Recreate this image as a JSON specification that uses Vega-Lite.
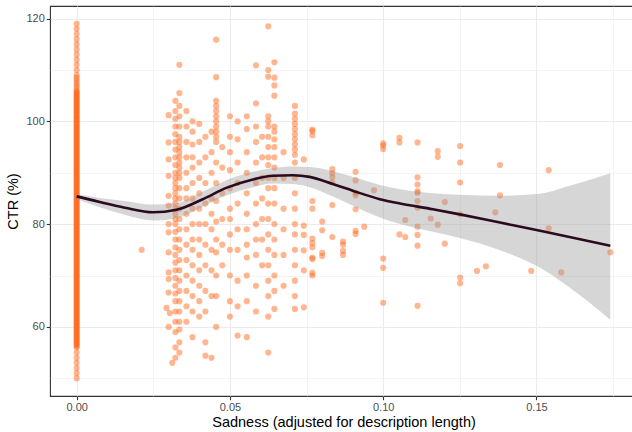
{
"$schema": "https://vega.github.io/schema/vega-lite/v6.json",
"width": 587, "height": 390,
"autosize": "none",
"padding": {"left": 50, "top": 6, "right": 0, "bottom": 36},
"background": "white",
"config": {"view": {"stroke": "#333333", "strokeWidth": 1.1}, "font": "Liberation Sans"},
"datasets": {
"points": [
{"sadness":0,"ctr":50},{"sadness":0,"ctr":51},{"sadness":0,"ctr":52},{"sadness":0,"ctr":53},{"sadness":0,"ctr":54},{"sadness":0,"ctr":55},
{"sadness":0,"ctr":56},{"sadness":0,"ctr":56.25},{"sadness":0,"ctr":56.5},{"sadness":0,"ctr":56.75},{"sadness":0,"ctr":57},{"sadness":0,"ctr":57.25},{"sadness":0,"ctr":57.5},{"sadness":0,"ctr":57.75},{"sadness":0,"ctr":58},{"sadness":0,"ctr":58.25},{"sadness":0,"ctr":58.5},{"sadness":0,"ctr":58.75},{"sadness":0,"ctr":59},{"sadness":0,"ctr":59.25},{"sadness":0,"ctr":59.5},{"sadness":0,"ctr":59.75},
{"sadness":0,"ctr":60},{"sadness":0,"ctr":60.25},{"sadness":0,"ctr":60.5},{"sadness":0,"ctr":60.75},{"sadness":0,"ctr":61},{"sadness":0,"ctr":61.25},{"sadness":0,"ctr":61.5},{"sadness":0,"ctr":61.75},{"sadness":0,"ctr":62},{"sadness":0,"ctr":62.25},{"sadness":0,"ctr":62.5},{"sadness":0,"ctr":62.75},{"sadness":0,"ctr":63},{"sadness":0,"ctr":63.25},{"sadness":0,"ctr":63.5},{"sadness":0,"ctr":63.75},{"sadness":0,"ctr":64},{"sadness":0,"ctr":64.25},{"sadness":0,"ctr":64.5},{"sadness":0,"ctr":64.75},
{"sadness":0,"ctr":65},{"sadness":0,"ctr":65.25},{"sadness":0,"ctr":65.5},{"sadness":0,"ctr":65.75},{"sadness":0,"ctr":66},{"sadness":0,"ctr":66.25},{"sadness":0,"ctr":66.5},{"sadness":0,"ctr":66.75},{"sadness":0,"ctr":67},{"sadness":0,"ctr":67.25},{"sadness":0,"ctr":67.5},{"sadness":0,"ctr":67.75},{"sadness":0,"ctr":68},{"sadness":0,"ctr":68.25},{"sadness":0,"ctr":68.5},{"sadness":0,"ctr":68.75},{"sadness":0,"ctr":69},{"sadness":0,"ctr":69.25},{"sadness":0,"ctr":69.5},{"sadness":0,"ctr":69.75},
{"sadness":0,"ctr":70},{"sadness":0,"ctr":70.25},{"sadness":0,"ctr":70.5},{"sadness":0,"ctr":70.75},{"sadness":0,"ctr":71},{"sadness":0,"ctr":71.25},{"sadness":0,"ctr":71.5},{"sadness":0,"ctr":71.75},{"sadness":0,"ctr":72},{"sadness":0,"ctr":72.25},{"sadness":0,"ctr":72.5},{"sadness":0,"ctr":72.75},{"sadness":0,"ctr":73},{"sadness":0,"ctr":73.25},{"sadness":0,"ctr":73.5},{"sadness":0,"ctr":73.75},{"sadness":0,"ctr":74},{"sadness":0,"ctr":74.25},{"sadness":0,"ctr":74.5},{"sadness":0,"ctr":74.75},
{"sadness":0,"ctr":75},{"sadness":0,"ctr":75.25},{"sadness":0,"ctr":75.5},{"sadness":0,"ctr":75.75},{"sadness":0,"ctr":76},{"sadness":0,"ctr":76.25},{"sadness":0,"ctr":76.5},{"sadness":0,"ctr":76.75},{"sadness":0,"ctr":77},{"sadness":0,"ctr":77.25},{"sadness":0,"ctr":77.5},{"sadness":0,"ctr":77.75},{"sadness":0,"ctr":78},{"sadness":0,"ctr":78.25},{"sadness":0,"ctr":78.5},{"sadness":0,"ctr":78.75},{"sadness":0,"ctr":79},{"sadness":0,"ctr":79.25},{"sadness":0,"ctr":79.5},{"sadness":0,"ctr":79.75},
{"sadness":0,"ctr":80},{"sadness":0,"ctr":80.25},{"sadness":0,"ctr":80.5},{"sadness":0,"ctr":80.75},{"sadness":0,"ctr":81},{"sadness":0,"ctr":81.25},{"sadness":0,"ctr":81.5},{"sadness":0,"ctr":81.75},{"sadness":0,"ctr":82},{"sadness":0,"ctr":82.25},{"sadness":0,"ctr":82.5},{"sadness":0,"ctr":82.75},{"sadness":0,"ctr":83},{"sadness":0,"ctr":83.25},{"sadness":0,"ctr":83.5},{"sadness":0,"ctr":83.75},{"sadness":0,"ctr":84},{"sadness":0,"ctr":84.25},{"sadness":0,"ctr":84.5},{"sadness":0,"ctr":84.75},
{"sadness":0,"ctr":85},{"sadness":0,"ctr":85.25},{"sadness":0,"ctr":85.5},{"sadness":0,"ctr":85.75},{"sadness":0,"ctr":86},{"sadness":0,"ctr":86.25},{"sadness":0,"ctr":86.5},{"sadness":0,"ctr":86.75},{"sadness":0,"ctr":87},{"sadness":0,"ctr":87.25},{"sadness":0,"ctr":87.5},{"sadness":0,"ctr":87.75},{"sadness":0,"ctr":88},{"sadness":0,"ctr":88.25},{"sadness":0,"ctr":88.5},{"sadness":0,"ctr":88.75},{"sadness":0,"ctr":89},{"sadness":0,"ctr":89.25},{"sadness":0,"ctr":89.5},{"sadness":0,"ctr":89.75},
{"sadness":0,"ctr":90},{"sadness":0,"ctr":90.25},{"sadness":0,"ctr":90.5},{"sadness":0,"ctr":90.75},{"sadness":0,"ctr":91},{"sadness":0,"ctr":91.25},{"sadness":0,"ctr":91.5},{"sadness":0,"ctr":91.75},{"sadness":0,"ctr":92},{"sadness":0,"ctr":92.25},{"sadness":0,"ctr":92.5},{"sadness":0,"ctr":92.75},{"sadness":0,"ctr":93},{"sadness":0,"ctr":93.25},{"sadness":0,"ctr":93.5},{"sadness":0,"ctr":93.75},{"sadness":0,"ctr":94},{"sadness":0,"ctr":94.25},{"sadness":0,"ctr":94.5},{"sadness":0,"ctr":94.75},
{"sadness":0,"ctr":95},{"sadness":0,"ctr":95.25},{"sadness":0,"ctr":95.5},{"sadness":0,"ctr":95.75},{"sadness":0,"ctr":96},{"sadness":0,"ctr":96.25},{"sadness":0,"ctr":96.5},{"sadness":0,"ctr":96.75},{"sadness":0,"ctr":97},{"sadness":0,"ctr":97.25},{"sadness":0,"ctr":97.5},{"sadness":0,"ctr":97.75},{"sadness":0,"ctr":98},{"sadness":0,"ctr":98.25},{"sadness":0,"ctr":98.5},{"sadness":0,"ctr":98.75},{"sadness":0,"ctr":99},{"sadness":0,"ctr":99.25},{"sadness":0,"ctr":99.5},{"sadness":0,"ctr":99.75},
{"sadness":0,"ctr":100},{"sadness":0,"ctr":100.25},{"sadness":0,"ctr":100.5},{"sadness":0,"ctr":100.75},{"sadness":0,"ctr":101},{"sadness":0,"ctr":101.25},{"sadness":0,"ctr":101.5},{"sadness":0,"ctr":101.75},{"sadness":0,"ctr":102},{"sadness":0,"ctr":102.25},{"sadness":0,"ctr":102.5},{"sadness":0,"ctr":102.75},{"sadness":0,"ctr":103},{"sadness":0,"ctr":103.25},{"sadness":0,"ctr":103.5},{"sadness":0,"ctr":103.75},{"sadness":0,"ctr":104},{"sadness":0,"ctr":104.25},{"sadness":0,"ctr":104.5},{"sadness":0,"ctr":104.75},
{"sadness":0,"ctr":105},{"sadness":0,"ctr":105.25},{"sadness":0,"ctr":105.5},{"sadness":0,"ctr":105.75},{"sadness":0,"ctr":106},{"sadness":0,"ctr":106.5},{"sadness":0,"ctr":107},{"sadness":0,"ctr":107.5},{"sadness":0,"ctr":108},{"sadness":0,"ctr":108.5},
{"sadness":0,"ctr":109},{"sadness":0,"ctr":110},{"sadness":0,"ctr":111},{"sadness":0,"ctr":112},{"sadness":0,"ctr":113},{"sadness":0,"ctr":114},{"sadness":0,"ctr":115},{"sadness":0,"ctr":116},{"sadness":0,"ctr":117},{"sadness":0,"ctr":118},{"sadness":0,"ctr":119},
{"sadness":0.0212,"ctr":75},
{"sadness":0.0293,"ctr":63.7},{"sadness":0.0304,"ctr":62.7},{"sadness":0.0312,"ctr":53},
{"sadness":0.03,"ctr":101.2},{"sadness":0.03,"ctr":95.9},{"sadness":0.03,"ctr":92.6},{"sadness":0.03,"ctr":89.4},{"sadness":0.03,"ctr":85.5},{"sadness":0.03,"ctr":83.6},{"sadness":0.03,"ctr":80},{"sadness":0.03,"ctr":78.4},{"sadness":0.03,"ctr":74.5},{"sadness":0.03,"ctr":70.6},{"sadness":0.03,"ctr":69.3},{"sadness":0.03,"ctr":66.7},{"sadness":0.03,"ctr":60},
{"sadness":0.0322,"ctr":104},{"sadness":0.0322,"ctr":102},{"sadness":0.0322,"ctr":100.5},{"sadness":0.0322,"ctr":99},{"sadness":0.0322,"ctr":97.5},{"sadness":0.0322,"ctr":96},{"sadness":0.0322,"ctr":94.5},{"sadness":0.0322,"ctr":93},{"sadness":0.0322,"ctr":91.5},{"sadness":0.0322,"ctr":90},{"sadness":0.0322,"ctr":89},{"sadness":0.0322,"ctr":88},{"sadness":0.0322,"ctr":87},{"sadness":0.0322,"ctr":86},{"sadness":0.0322,"ctr":85},{"sadness":0.0322,"ctr":84},{"sadness":0.0322,"ctr":83},{"sadness":0.0322,"ctr":82},{"sadness":0.0322,"ctr":81},{"sadness":0.0322,"ctr":80},{"sadness":0.0322,"ctr":78.5},{"sadness":0.0322,"ctr":77},{"sadness":0.0322,"ctr":75.5},{"sadness":0.0322,"ctr":74},{"sadness":0.0322,"ctr":72.5},{"sadness":0.0322,"ctr":71},{"sadness":0.0322,"ctr":69.5},{"sadness":0.0322,"ctr":68},{"sadness":0.0322,"ctr":66.5},{"sadness":0.0322,"ctr":65},{"sadness":0.0322,"ctr":63},{"sadness":0.0322,"ctr":61},{"sadness":0.0322,"ctr":59},{"sadness":0.0322,"ctr":56},{"sadness":0.0322,"ctr":54},
{"sadness":0.0335,"ctr":111},{"sadness":0.0335,"ctr":105.5},{"sadness":0.0335,"ctr":103},{"sadness":0.0335,"ctr":101},{"sadness":0.0335,"ctr":99},{"sadness":0.0335,"ctr":97},{"sadness":0.0335,"ctr":96},{"sadness":0.0335,"ctr":95},{"sadness":0.0335,"ctr":94},{"sadness":0.0335,"ctr":93},{"sadness":0.0335,"ctr":92},{"sadness":0.0335,"ctr":91},{"sadness":0.0335,"ctr":90},{"sadness":0.0335,"ctr":89},{"sadness":0.0335,"ctr":87},{"sadness":0.0335,"ctr":85},{"sadness":0.0335,"ctr":83},{"sadness":0.0335,"ctr":81},{"sadness":0.0335,"ctr":79},{"sadness":0.0335,"ctr":77},{"sadness":0.0335,"ctr":75},{"sadness":0.0335,"ctr":73},{"sadness":0.0335,"ctr":71},{"sadness":0.0335,"ctr":69},{"sadness":0.0335,"ctr":67},{"sadness":0.0335,"ctr":65},{"sadness":0.0335,"ctr":63},{"sadness":0.0335,"ctr":61},{"sadness":0.0335,"ctr":59.5},{"sadness":0.0335,"ctr":57},{"sadness":0.0335,"ctr":55},
{"sadness":0.0358,"ctr":102},{"sadness":0.0358,"ctr":99},{"sadness":0.0358,"ctr":96},{"sadness":0.0358,"ctr":93},{"sadness":0.0358,"ctr":90},{"sadness":0.0358,"ctr":87},{"sadness":0.0358,"ctr":85},{"sadness":0.0358,"ctr":82},{"sadness":0.0358,"ctr":79},{"sadness":0.0358,"ctr":76},{"sadness":0.0358,"ctr":73},{"sadness":0.0358,"ctr":70},{"sadness":0.0358,"ctr":67},{"sadness":0.0358,"ctr":64},{"sadness":0.0358,"ctr":61},
{"sadness":0.0378,"ctr":100},{"sadness":0.0378,"ctr":98},{"sadness":0.0378,"ctr":95.5},{"sadness":0.0378,"ctr":93},{"sadness":0.0378,"ctr":91},{"sadness":0.0378,"ctr":88},{"sadness":0.0378,"ctr":85},{"sadness":0.0378,"ctr":83},{"sadness":0.0378,"ctr":80},{"sadness":0.0378,"ctr":77},{"sadness":0.0378,"ctr":75},{"sadness":0.0378,"ctr":72},{"sadness":0.0378,"ctr":69},{"sadness":0.0378,"ctr":66},{"sadness":0.0378,"ctr":63},{"sadness":0.0378,"ctr":58},
{"sadness":0.04,"ctr":99.5},{"sadness":0.04,"ctr":96},{"sadness":0.04,"ctr":92},{"sadness":0.04,"ctr":89},{"sadness":0.04,"ctr":86},{"sadness":0.04,"ctr":83},{"sadness":0.04,"ctr":80},{"sadness":0.04,"ctr":77},{"sadness":0.04,"ctr":74},{"sadness":0.04,"ctr":71},{"sadness":0.04,"ctr":68},{"sadness":0.04,"ctr":65},{"sadness":0.04,"ctr":62},
{"sadness":0.042,"ctr":97},{"sadness":0.042,"ctr":93},{"sadness":0.042,"ctr":88},{"sadness":0.042,"ctr":84},{"sadness":0.042,"ctr":80},{"sadness":0.042,"ctr":76},{"sadness":0.042,"ctr":72},{"sadness":0.042,"ctr":67},{"sadness":0.042,"ctr":63},{"sadness":0.042,"ctr":57},{"sadness":0.042,"ctr":54.4},
{"sadness":0.044,"ctr":98},{"sadness":0.044,"ctr":94},{"sadness":0.044,"ctr":90},{"sadness":0.044,"ctr":85},{"sadness":0.044,"ctr":82},{"sadness":0.044,"ctr":79},{"sadness":0.044,"ctr":75},{"sadness":0.044,"ctr":71},{"sadness":0.044,"ctr":66},{"sadness":0.044,"ctr":54},
{"sadness":0.0455,"ctr":115.9},{"sadness":0.0455,"ctr":108.6},{"sadness":0.0455,"ctr":104},{"sadness":0.0455,"ctr":103},{"sadness":0.0455,"ctr":102},{"sadness":0.0455,"ctr":101},{"sadness":0.0455,"ctr":100},{"sadness":0.0455,"ctr":99},{"sadness":0.0455,"ctr":98},{"sadness":0.0455,"ctr":97},{"sadness":0.0455,"ctr":96},{"sadness":0.0455,"ctr":92},{"sadness":0.0455,"ctr":88},{"sadness":0.0455,"ctr":84.5},{"sadness":0.0455,"ctr":80.5},{"sadness":0.0455,"ctr":77},{"sadness":0.0455,"ctr":74.5},{"sadness":0.0455,"ctr":70},{"sadness":0.0455,"ctr":66},{"sadness":0.0455,"ctr":60},
{"sadness":0.0475,"ctr":95},{"sadness":0.0475,"ctr":91},{"sadness":0.0475,"ctr":86},{"sadness":0.0475,"ctr":81},{"sadness":0.0475,"ctr":76},{"sadness":0.0475,"ctr":72},
{"sadness":0.05,"ctr":101},{"sadness":0.05,"ctr":97},{"sadness":0.05,"ctr":94},{"sadness":0.05,"ctr":90.5},{"sadness":0.05,"ctr":87},{"sadness":0.05,"ctr":83},{"sadness":0.05,"ctr":81},{"sadness":0.05,"ctr":78},{"sadness":0.05,"ctr":75},{"sadness":0.05,"ctr":70},{"sadness":0.05,"ctr":65},{"sadness":0.05,"ctr":62},
{"sadness":0.0525,"ctr":100},{"sadness":0.0525,"ctr":96.5},{"sadness":0.0525,"ctr":92},{"sadness":0.0525,"ctr":88},{"sadness":0.0525,"ctr":84},{"sadness":0.0525,"ctr":79},{"sadness":0.0525,"ctr":75},{"sadness":0.0525,"ctr":69},{"sadness":0.0525,"ctr":64},{"sadness":0.0525,"ctr":58.3},
{"sadness":0.0555,"ctr":101},{"sadness":0.0555,"ctr":98.5},{"sadness":0.0555,"ctr":94},{"sadness":0.0555,"ctr":90},{"sadness":0.0555,"ctr":86},{"sadness":0.0555,"ctr":82},{"sadness":0.0555,"ctr":79},{"sadness":0.0555,"ctr":76},{"sadness":0.0555,"ctr":73.5},{"sadness":0.0555,"ctr":70},{"sadness":0.0555,"ctr":65},{"sadness":0.0555,"ctr":58},
{"sadness":0.0585,"ctr":110.9},{"sadness":0.0585,"ctr":103.5},{"sadness":0.0585,"ctr":99},{"sadness":0.0585,"ctr":96},{"sadness":0.0585,"ctr":92},{"sadness":0.0585,"ctr":88},{"sadness":0.0585,"ctr":84},{"sadness":0.0585,"ctr":80},{"sadness":0.0585,"ctr":77},{"sadness":0.0585,"ctr":74},{"sadness":0.0585,"ctr":68},{"sadness":0.0585,"ctr":63},
{"sadness":0.0605,"ctr":97},{"sadness":0.0605,"ctr":93},{"sadness":0.0605,"ctr":89},{"sadness":0.0605,"ctr":85},{"sadness":0.0605,"ctr":81},{"sadness":0.0605,"ctr":77},{"sadness":0.0605,"ctr":72},
{"sadness":0.0625,"ctr":118.5},{"sadness":0.0625,"ctr":110},{"sadness":0.0625,"ctr":108.7},{"sadness":0.0625,"ctr":101},{"sadness":0.0625,"ctr":100},{"sadness":0.0625,"ctr":99},{"sadness":0.0625,"ctr":97},{"sadness":0.0625,"ctr":95},{"sadness":0.0625,"ctr":93},{"sadness":0.0625,"ctr":91.5},{"sadness":0.0625,"ctr":89},{"sadness":0.0625,"ctr":87},{"sadness":0.0625,"ctr":84},{"sadness":0.0625,"ctr":81},{"sadness":0.0625,"ctr":78},{"sadness":0.0625,"ctr":75},{"sadness":0.0625,"ctr":72},{"sadness":0.0625,"ctr":69},{"sadness":0.0625,"ctr":66},{"sadness":0.0625,"ctr":62},{"sadness":0.0625,"ctr":55},
{"sadness":0.0645,"ctr":111.5},{"sadness":0.0645,"ctr":108.5},{"sadness":0.0645,"ctr":107},{"sadness":0.0645,"ctr":105},{"sadness":0.0645,"ctr":99},{"sadness":0.0645,"ctr":98},{"sadness":0.0645,"ctr":96.5},{"sadness":0.0645,"ctr":95},{"sadness":0.0645,"ctr":93},{"sadness":0.0645,"ctr":91},{"sadness":0.0645,"ctr":89},{"sadness":0.0645,"ctr":87},{"sadness":0.0645,"ctr":84},{"sadness":0.0645,"ctr":80},{"sadness":0.0645,"ctr":77},{"sadness":0.0645,"ctr":74},{"sadness":0.0645,"ctr":70},{"sadness":0.0645,"ctr":67},{"sadness":0.0645,"ctr":63.5},
{"sadness":0.0675,"ctr":94},{"sadness":0.0675,"ctr":89},{"sadness":0.0675,"ctr":83},{"sadness":0.0675,"ctr":79},{"sadness":0.0675,"ctr":74},{"sadness":0.0675,"ctr":68},
{"sadness":0.0712,"ctr":103},{"sadness":0.0712,"ctr":101.5},{"sadness":0.0712,"ctr":100.5},{"sadness":0.0712,"ctr":99.5},{"sadness":0.0712,"ctr":98.5},{"sadness":0.0712,"ctr":97.5},{"sadness":0.0712,"ctr":96.5},{"sadness":0.0712,"ctr":95.5},{"sadness":0.0712,"ctr":94.5},{"sadness":0.0712,"ctr":93.5},{"sadness":0.0712,"ctr":92},{"sadness":0.0712,"ctr":89},{"sadness":0.0712,"ctr":86},{"sadness":0.0712,"ctr":83},{"sadness":0.0712,"ctr":80},{"sadness":0.0712,"ctr":78},{"sadness":0.0712,"ctr":75},{"sadness":0.0712,"ctr":72},{"sadness":0.0712,"ctr":69},{"sadness":0.0712,"ctr":66},{"sadness":0.0712,"ctr":63.5},
{"sadness":0.0741,"ctr":92.6},{"sadness":0.0741,"ctr":79.7},{"sadness":0.0741,"ctr":77.9},{"sadness":0.0741,"ctr":74.9},{"sadness":0.0741,"ctr":71},{"sadness":0.0741,"ctr":63.8},
{"sadness":0.0769,"ctr":98.4},{"sadness":0.0769,"ctr":98.1},{"sadness":0.0769,"ctr":97.3},{"sadness":0.0769,"ctr":84.5},{"sadness":0.0769,"ctr":83},{"sadness":0.0769,"ctr":77.2},{"sadness":0.0769,"ctr":76.3},{"sadness":0.0769,"ctr":75.5},{"sadness":0.0769,"ctr":73.5},{"sadness":0.0769,"ctr":73.2},{"sadness":0.0769,"ctr":70.5},{"sadness":0.0769,"ctr":70},
{"sadness":0.0801,"ctr":80.5},{"sadness":0.0801,"ctr":78.8},{"sadness":0.0801,"ctr":74.4},{"sadness":0.0801,"ctr":73.8},
{"sadness":0.0834,"ctr":90.7},{"sadness":0.0834,"ctr":89.9},{"sadness":0.0834,"ctr":89.1},{"sadness":0.0834,"ctr":88.1},{"sadness":0.0834,"ctr":83.7},{"sadness":0.0834,"ctr":77.5},
{"sadness":0.0869,"ctr":76.6},{"sadness":0.0869,"ctr":76},{"sadness":0.0869,"ctr":74.8},{"sadness":0.0869,"ctr":74},
{"sadness":0.091,"ctr":90.2},{"sadness":0.091,"ctr":88.5},{"sadness":0.091,"ctr":86.1},{"sadness":0.091,"ctr":85.6},{"sadness":0.091,"ctr":82.9},{"sadness":0.091,"ctr":78.7},{"sadness":0.091,"ctr":78.1},
{"sadness":0.0938,"ctr":79.5},{"sadness":0.097,"ctr":86.6},
{"sadness":0.1,"ctr":95.7},{"sadness":0.1,"ctr":95.3},{"sadness":0.1,"ctr":94.6},{"sadness":0.1,"ctr":73.3},{"sadness":0.1,"ctr":71.5},{"sadness":0.1,"ctr":64.7},
{"sadness":0.1053,"ctr":96.8},{"sadness":0.1053,"ctr":95.9},{"sadness":0.1053,"ctr":78},
{"sadness":0.1072,"ctr":80.8},{"sadness":0.1072,"ctr":77.5},
{"sadness":0.1112,"ctr":95.9},{"sadness":0.1112,"ctr":89.1},{"sadness":0.1112,"ctr":87.7},{"sadness":0.1112,"ctr":86.4},{"sadness":0.1112,"ctr":86.1},{"sadness":0.1112,"ctr":84.5},{"sadness":0.1112,"ctr":83.2},{"sadness":0.1112,"ctr":79.5},{"sadness":0.1112,"ctr":77.9},{"sadness":0.1112,"ctr":75.8},{"sadness":0.1112,"ctr":64.1},
{"sadness":0.1155,"ctr":81.1},
{"sadness":0.1178,"ctr":94.2},{"sadness":0.1178,"ctr":93.1},{"sadness":0.1178,"ctr":79.9},
{"sadness":0.1201,"ctr":84.3},{"sadness":0.1201,"ctr":76.2},
{"sadness":0.1251,"ctr":95.2},{"sadness":0.1251,"ctr":92},{"sadness":0.1251,"ctr":88.1},{"sadness":0.1251,"ctr":81.9},{"sadness":0.1251,"ctr":69.6},{"sadness":0.1251,"ctr":68.5},
{"sadness":0.1306,"ctr":70.9},{"sadness":0.1335,"ctr":71.8},{"sadness":0.1366,"ctr":82.3},
{"sadness":0.1381,"ctr":91.5},{"sadness":0.1381,"ctr":85.6},
{"sadness":0.1483,"ctr":70.9},
{"sadness":0.154,"ctr":90.5},{"sadness":0.154,"ctr":79.2},
{"sadness":0.1581,"ctr":70.6},
{"sadness":0.1741,"ctr":74.5}
],
"smooth": [
{"sadness":0,"fit":85.4,"lo":84.9,"hi":85.8},
{"sadness":0.0075,"fit":84.3,"lo":83.3,"hi":85.1},
{"sadness":0.0157,"fit":83.2,"lo":81.8,"hi":84.5},
{"sadness":0.0248,"fit":82.3,"lo":80.7,"hi":83.8},
{"sadness":0.0326,"fit":82.8,"lo":81.2,"hi":84.1},
{"sadness":0.0411,"fit":84.85,"lo":83.4,"hi":86.3},
{"sadness":0.049,"fit":87.1,"lo":85.6,"hi":88.6},
{"sadness":0.0575,"fit":88.7,"lo":87.2,"hi":90.2},
{"sadness":0.064,"fit":89.4,"lo":87.9,"hi":90.9},
{"sadness":0.0705,"fit":89.5,"lo":87.8,"hi":91.2},
{"sadness":0.076,"fit":89.2,"lo":87.2,"hi":91.1},
{"sadness":0.0836,"fit":87.8,"lo":85.4,"hi":90.3},
{"sadness":0.0901,"fit":86.5,"lo":83.6,"hi":89.2},
{"sadness":0.0989,"fit":84.85,"lo":81.3,"hi":87.6},
{"sadness":0.1055,"fit":84.0,"lo":80.0,"hi":86.8},
{"sadness":0.1162,"fit":82.9,"lo":78.5,"hi":86.0},
{"sadness":0.125,"fit":81.9,"lo":77.3,"hi":85.7},
{"sadness":0.1381,"fit":80.3,"lo":74.9,"hi":85.5},
{"sadness":0.1512,"fit":78.7,"lo":71.5,"hi":85.9},
{"sadness":0.16,"fit":77.6,"lo":68.0,"hi":87.3},
{"sadness":0.1741,"fit":75.8,"lo":61.4,"hi":89.9}
]
},
"layer": [
{
"data": {"name": "points"},
"mark": {"type": "circle", "size": 38, "color": "#FF6619", "opacity": 0.48},
"encoding": {
"x": {"field": "sadness", "type": "quantitative", "title": "Sadness (adjusted for description length)",
 "scale": {"domain": [-0.0087, 0.1828], "nice": false, "zero": false},
 "axis": {"values": [0, 0.025, 0.05, 0.075, 0.1, 0.125, 0.15, 0.175],
  "labelExpr": "round(datum.value*1000) % 50 === 0 ? format(datum.value, '.2f') : ''",
  "tickOpacity": {"condition": {"test": "round(datum.value*1000) % 50 === 0", "value": 1}, "value": 0},
  "gridWidth": {"condition": {"test": "round(datum.value*1000) % 50 === 0", "value": 1.1}, "value": 0.55},
  "gridColor": "#EBEBEB", "domain": false, "tickColor": "#333333", "tickSize": 3.7, "tickWidth": 1.1,
  "labelColor": "#4D4D4D", "labelFontSize": 11, "labelPadding": 2, "labelFlush": false, "labelOverlap": false,
  "titleFontSize": 14.5, "titleFontWeight": "normal", "titleColor": "#000000", "titlePadding": 3}},
"y": {"field": "ctr", "type": "quantitative", "title": "CTR (%)",
 "scale": {"domain": [46.55, 122.45], "nice": false, "zero": false},
 "axis": {"values": [50, 60, 70, 80, 90, 100, 110, 120],
  "labelExpr": "datum.value % 20 === 0 ? datum.label : ''",
  "tickOpacity": {"condition": {"test": "datum.value % 20 === 0", "value": 1}, "value": 0},
  "gridWidth": {"condition": {"test": "datum.value % 20 === 0", "value": 1.1}, "value": 0.55},
  "gridColor": "#EBEBEB", "domain": false, "tickColor": "#333333", "tickSize": 3.7, "tickWidth": 1.1,
  "labelColor": "#4D4D4D", "labelFontSize": 11, "labelPadding": 2, "labelFlush": false, "labelOverlap": false,
  "titleFontSize": 14.5, "titleFontWeight": "normal", "titleColor": "#000000", "titlePadding": 5}}
}
},
{
"data": {"name": "smooth"},
"mark": {"type": "area", "color": "#999999", "opacity": 0.4, "interpolate": "monotone"},
"encoding": {
"x": {"field": "sadness", "type": "quantitative", "title": "Sadness (adjusted for description length)"},
"y": {"field": "lo", "type": "quantitative", "title": "CTR (%)"},
"y2": {"field": "hi"}
}
},
{
"data": {"name": "smooth"},
"mark": {"type": "line", "color": "#2B0A1F", "strokeWidth": 2.6, "interpolate": "monotone"},
"encoding": {
"x": {"field": "sadness", "type": "quantitative", "title": "Sadness (adjusted for description length)"},
"y": {"field": "fit", "type": "quantitative", "title": "CTR (%)"}
}
}
]
}
